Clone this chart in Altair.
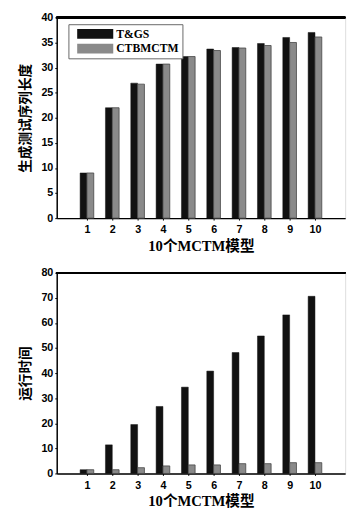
import altair as alt
import pandas as pd

models = [1, 2, 3, 4, 5, 6, 7, 8, 9, 10]
series_names = ["T&GS", "CTBMCTM"]
tg_len = [9, 22, 26.9, 30.7, 32.2, 33.7, 34, 34.8, 36, 37]
ct_len = [9, 22, 26.7, 30.7, 32.2, 33.4, 33.9, 34.4, 35, 36.1]
tg_time = [1.5, 11.4, 19.5, 26.7, 34.4, 40.8, 48.2, 54.8, 63.2, 70.6]
ct_time = [1.5, 1.5, 2.3, 3.0, 3.4, 3.4, 3.9, 3.9, 4.3, 4.3]

x_title = "10个MCTM模型"
y_title_top = "生成测试序列长度"
y_title_bot = "运行时间"

BLACK = "#111111"
GRAY = "#8a8a8a"
FONT_NUM = "Liberation Sans"
FONT_TXT = "Liberation Serif, Noto Sans CJK SC"


def long_df(a, b):
    rows = []
    for m, v in zip(models, a):
        rows.append({"m": m, "v": v, "s": series_names[0]})
    for m, v in zip(models, b):
        rows.append({"m": m, "v": v, "s": series_names[1]})
    return pd.DataFrame(rows)


# wide swatch: sqrt(size)=10 -> r=5; path spans 7.4 units (37px) x 2 units (10px)
SYMBOL = "M-0.2,-1L7.2,-1L7.2,1L-0.2,1Z"


def panel(df, ymax, ystep, ytitle, lx, ly):
    yvals = list(range(0, ymax + 1, ystep))
    color = alt.Color(
        "s:N",
        scale=alt.Scale(domain=series_names, range=[BLACK, GRAY]),
        legend=alt.Legend(
            orient="none", legendX=lx, legendY=ly, title=None,
            symbolType=SYMBOL, symbolSize=100, symbolStrokeWidth=0,
            labelFont="Liberation Serif", labelFontSize=12, labelFontWeight="bold",
            labelColor="#000", labelOffset=33, rowPadding=3, padding=4,
            strokeColor="#666", fillColor="#ffffff",
        ),
    )
    yscale = alt.Scale(domain=[0, ymax], nice=False)
    yaxis = alt.Axis(
        values=yvals, title=ytitle, grid=False, tickSize=2, labelPadding=2,
        labelOverlap=False,
        labelFont=FONT_NUM, labelFontSize=11, labelFontWeight="bold", labelColor="#000",
        titleFont=FONT_TXT, titleFontSize=14, titleFontWeight="bold", titleColor="#000",
        titlePadding=9, domainColor="#000", domainWidth=1.5, tickColor="#000",
    )
    yenc = alt.Y("v:Q", scale=yscale, axis=yaxis)
    xenc = alt.X(
        "m:Q", scale=alt.Scale(domain=[0, 11], nice=False),
        axis=alt.Axis(
            values=models, title=x_title, grid=False, tickSize=2, labelPadding=4,
            labelOverlap=False,
            labelFont=FONT_NUM, labelFontSize=11, labelFontWeight="bold", labelColor="#000",
            titleFont=FONT_TXT, titleFontSize=15, titleFontWeight="bold", titleColor="#000",
            titlePadding=4, domainColor="#000", domainWidth=1.5, tickColor="#000",
        ),
    )
    base = alt.Chart(df)
    black = base.transform_filter(alt.datum.s == series_names[0]).mark_bar(
        width=7, xOffset=-3.5, stroke=BLACK, strokeWidth=0.5
    ).encode(x=xenc, y=yenc, color=color)
    gray = base.transform_filter(alt.datum.s == series_names[1]).mark_bar(
        width=7, xOffset=3.5, stroke="#444", strokeWidth=0.8
    ).encode(x=xenc, y=yenc, color=color)
    frame = alt.Chart(df).mark_rule(color="#000", strokeWidth=1.5).encode(
        y=alt.YDatum(ymax, scale=yscale, axis=yaxis)
    )
    return alt.layer(black, gray, frame).properties(width=296, height=206)


top = panel(long_df(tg_len, ct_len), 40, 5, y_title_top, 12, 7)
bot = panel(long_df(tg_time, ct_time), 80, 10, y_title_bot, 18, 12)

chart = alt.vconcat(top, bot, spacing=12).properties(
    padding={"left": 10, "top": -4, "right": 5, "bottom": 0}
).configure_view(stroke=None).configure(background="#ffffff")

chart.save("out.html", embed_options={"renderer": "svg", "actions": False})
